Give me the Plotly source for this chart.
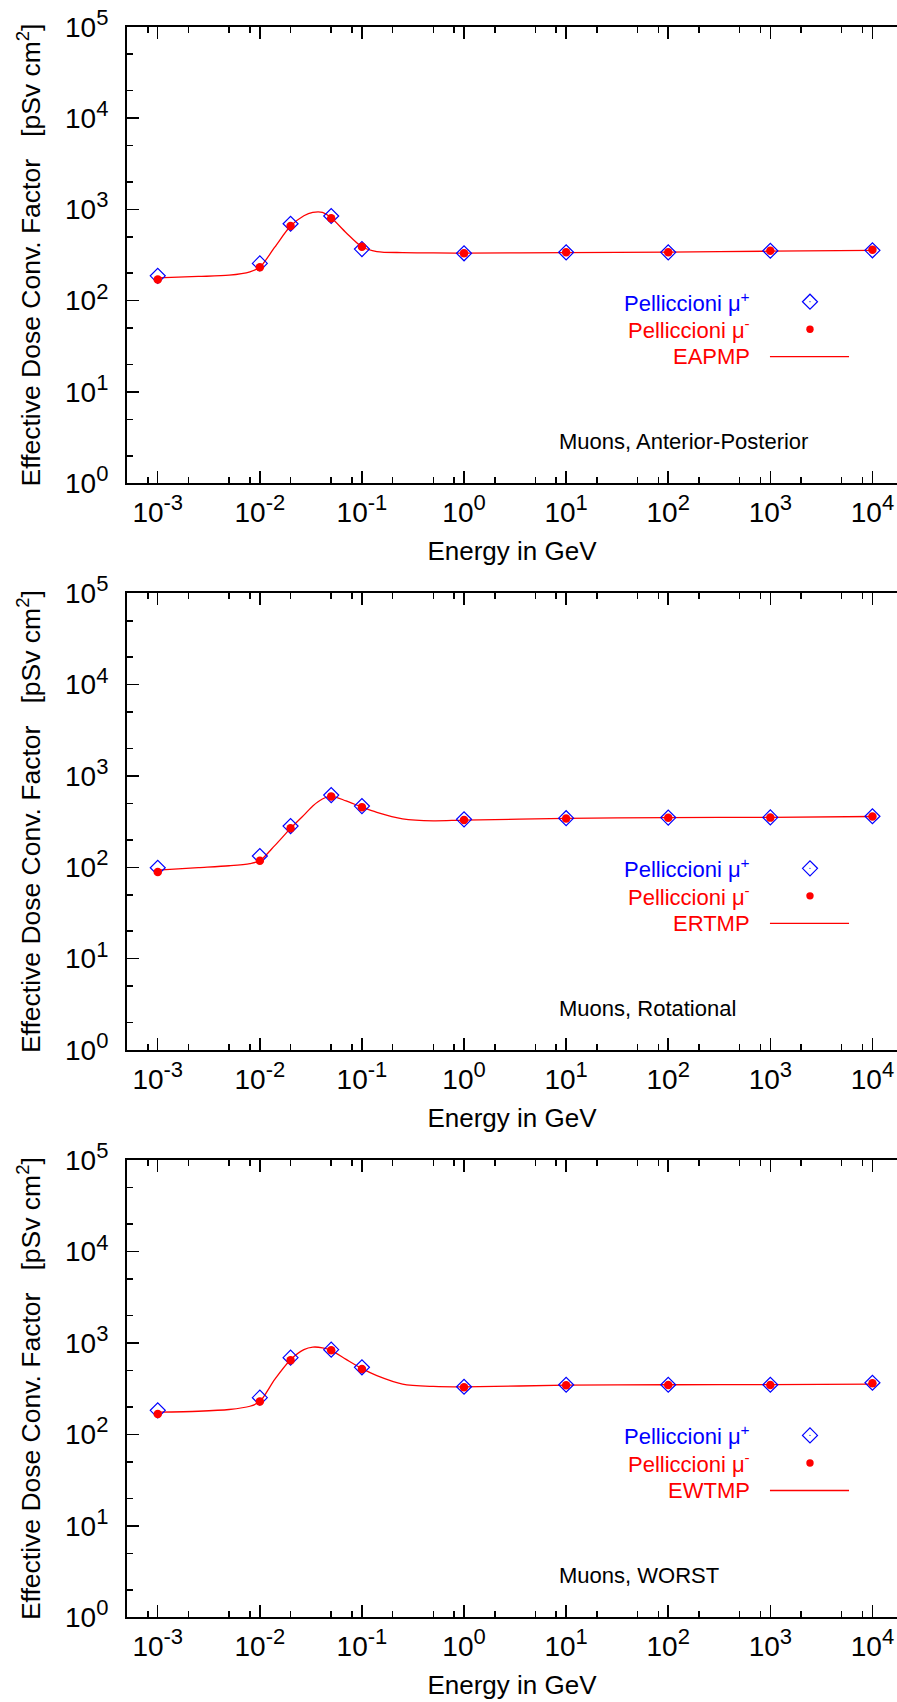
import plotly.graph_objects as go

# ---------------- data ----------------
energy_pts = [1e-3, 1e-2, 2e-2, 5e-2, 1e-1, 1, 10, 100, 1000, 10000]
ap_mu_plus = [187, 256, 695, 845, 367, 330, 338, 338, 352, 356]
ap_mu_minus = [171, 232, 656, 797, 389, 330, 338, 338, 352, 362]
rot_mu_plus = [99, 133, 283, 618, 468, 335, 345, 350, 352, 362]
rot_mu_minus = [89, 118, 267, 598, 456, 329, 342, 348, 350, 360]
worst_mu_plus = [183, 252, 690, 844, 541, 332, 349, 349, 349, 367]
worst_mu_minus = [167, 229, 645, 829, 518, 327, 344, 346, 347, 362]

curve_energy = [1e-3, 2.5e-3, 5e-3, 8e-3, 1e-2, 1.4e-2, 2e-2, 2.7e-2, 3.3e-2, 4.1e-2,
                5e-2, 7e-2, 0.1, 0.14, 0.25, 0.5, 1, 10, 100, 1000, 10000]
eapmp = [178, 184, 190, 207, 232, 385, 656, 851, 927, 927, 809, 555, 389, 345, 336, 334,
         332, 336, 340, 348, 356]
ertmp = [93, 99, 104, 110, 118, 173, 267, 373, 470, 560, 603, 533, 456, 400, 340, 323,
         329, 343, 350, 353, 360]
ewtmp = [175, 179, 187, 203, 229, 400, 656, 844, 900, 885, 829, 660, 523, 440, 355, 334,
         330, 345, 349, 350, 355]

curve_names = ["EAPMP", "ERTMP", "EWTMP"]
panel_notes = ["Muons, Anterior-Posterior", "Muons, Rotational", "Muons, WORST"]

x_tick_vals = [1e-3, 1e-2, 1e-1, 1, 10, 100, 1000, 10000]
x_tick_exps = ["-3", "-2", "-1", "0", "1", "2", "3", "4"]
y_tick_vals = [1, 10, 100, 1000, 10000, 100000]
y_tick_exps = ["0", "1", "2", "3", "4", "5"]
x_minor_vals = [m * 10.0 ** k for k in range(-4, 5) for m in (2, 5, 8)]
y_minor_vals = [m * 10.0 ** k for k in range(-1, 6) for m in (2, 5)]

# ---------------- style ----------------
FONT = "Liberation Sans"
BLUE = "#0000ff"
RED = "#ff0000"
W, H = 897, 1702
LEFT = 127
X_RANGE = [-3.30103, 4.2406]
Y_RANGE = [0, 5]
domains = [[0.71604, 0.98431], [0.38308, 0.65141], [0.04977, 0.31845]]


def pow_label(e):
    return f'10<sup><span style="font-size:22px">{e}</span></sup>'


x_tick_text = [pow_label(e) for e in x_tick_exps]
y_tick_text = [pow_label(e) for e in y_tick_exps]

fig = go.Figure()

panels = [
    (ap_mu_plus, ap_mu_minus, eapmp),
    (rot_mu_plus, rot_mu_minus, ertmp),
    (worst_mu_plus, worst_mu_minus, ewtmp),
]

for i, (mp, mm, cv) in enumerate(panels):
    xa = "x" if i == 0 else f"x{i+1}"
    ya = "y" if i == 0 else f"y{i+1}"
    fig.add_trace(go.Scatter(x=curve_energy, y=cv, mode="lines",
                             line=dict(color=RED, width=1.3, shape="spline", smoothing=0.8),
                             xaxis=xa, yaxis=ya, showlegend=False, name=curve_names[i]))
    fig.add_trace(go.Scatter(x=energy_pts, y=mp, mode="markers",
                             marker=dict(symbol="diamond-open", size=11.5,
                                         color=BLUE, line=dict(color=BLUE, width=1.2)),
                             xaxis=xa, yaxis=ya, showlegend=False, name="Pelliccioni mu+"))
    fig.add_trace(go.Scatter(x=energy_pts, y=mm, mode="markers",
                             marker=dict(symbol="circle", size=8.5, color=RED),
                             xaxis=xa, yaxis=ya, showlegend=False, name="Pelliccioni mu-"))

layout = dict(
    template="none",
    width=W, height=H,
    margin=dict(l=LEFT, r=0, t=0, b=0, autoexpand=False),
    paper_bgcolor="white", plot_bgcolor="white",
    font=dict(family=FONT, size=26, color="black"),
    showlegend=False,
)

ytitle = "Effective Dose Conv. Factor\u00a0\u00a0\u00a0[pSv cm<sup>2</sup>]"

for i in range(3):
    sx = "" if i == 0 else str(i + 1)
    layout[f"xaxis{sx}"] = dict(
        type="log", range=X_RANGE, domain=[0, 1], anchor=f"y{sx}", automargin=False,
        showline=True, linewidth=2, linecolor="black", mirror="ticks",
        ticks="inside", ticklen=12, tickwidth=1.5, tickcolor="black",
        tickmode="array", tickvals=x_tick_vals, ticktext=x_tick_text,
        tickfont=dict(family=FONT, size=28, color="black"), ticklabelstandoff=3,
        minor=dict(ticks="inside", ticklen=6, tickwidth=1.5, tickcolor="black",
                   tickmode="array", tickvals=x_minor_vals, showgrid=False),
        showgrid=False, zeroline=False,
        title=dict(text="Energy in GeV", font=dict(family=FONT, size=26, color="black"),
                   standoff=15),
    )
    layout[f"yaxis{sx}"] = dict(
        type="log", range=Y_RANGE, domain=domains[i], anchor=f"x{sx}", automargin=False,
        showline=True, linewidth=2, linecolor="black", mirror=False,
        ticks="inside", ticklen=12, tickwidth=1.5, tickcolor="black",
        tickmode="array", tickvals=y_tick_vals, ticktext=y_tick_text,
        tickfont=dict(family=FONT, size=28, color="black"), ticklabelstandoff=11,
        minor=dict(ticks="inside", ticklen=6, tickwidth=1.5, tickcolor="black",
                   tickmode="array", tickvals=y_minor_vals, showgrid=False),
        showgrid=False, zeroline=False,
        title=dict(text=ytitle, font=dict(family=FONT, size=26.5, color="black"),
                   standoff=17),
    )
    # right-hand tick marks (frame is cropped at the right edge)
    layout[f"yaxis{i+4}"] = dict(
        type="log", range=Y_RANGE, overlaying=f"y{sx}", anchor=f"x{sx}", side="right",
        automargin=False,
        showline=False, ticks="inside", ticklen=6, tickwidth=1.5, tickcolor="black",
        tickmode="array", tickvals=y_tick_vals, showticklabels=False,
        showgrid=False, zeroline=False,
    )

fig.update_layout(**layout)

# ---------------- manual key + notes ----------------
row_y = [0.3977, 0.3375, 0.2773]
text_x = 0.8117
sym_x = 0.887
line_x = [0.835, 0.9377]
shapes = []
annotations = []
for i in range(3):
    sx = "" if i == 0 else str(i + 1)
    xr = f"x{sx} domain"
    yr = f"y{sx} domain"
    labels = [("Pelliccioni \u03bc<sup>+</sup>", BLUE),
              ("Pelliccioni \u03bc<sup>-</sup>", RED),
              (curve_names[i], RED)]
    for (txt, col), ry in zip(labels, row_y):
        annotations.append(dict(text=txt, x=text_x, y=ry, xref=xr, yref=yr,
                                xanchor="right", yanchor="middle", showarrow=False,
                                font=dict(family=FONT, size=22, color=col)))
    annotations.append(dict(text=panel_notes[i], x=0.5584, y=0.091, xref=xr, yref=yr,
                            xanchor="left", yanchor="middle", showarrow=False,
                            font=dict(family=FONT, size=22, color="black")))
    # diamond key
    shapes.append(dict(type="path", xref=xr, yref=yr, xsizemode="pixel", ysizemode="pixel",
                       xanchor=sym_x, yanchor=row_y[0],
                       path="M -7.5 0 L 0 7.5 L 7.5 0 L 0 -7.5 Z",
                       line=dict(color=BLUE, width=1.2)))
    shapes.append(dict(type="circle", xref=xr, yref=yr, xsizemode="pixel", ysizemode="pixel",
                       xanchor=sym_x, yanchor=row_y[0], x0=-0.6, x1=0.6, y0=-0.6, y1=0.6,
                       fillcolor=BLUE, line=dict(width=0)))
    # dot key
    shapes.append(dict(type="circle", xref=xr, yref=yr, xsizemode="pixel", ysizemode="pixel",
                       xanchor=sym_x, yanchor=row_y[1], x0=-3.7, x1=3.7, y0=-3.7, y1=3.7,
                       fillcolor=RED, line=dict(width=0)))
    # line key
    shapes.append(dict(type="line", xref=xr, yref=yr, x0=line_x[0], x1=line_x[1],
                       y0=row_y[2], y1=row_y[2], line=dict(color=RED, width=1.3)))

fig.update_layout(shapes=shapes, annotations=annotations)

fig.write_html("out.html",
               config={"displayModeBar": False, "staticPlot": True},
               post_script="document.body.style.margin='0';document.body.style.padding='0';")
